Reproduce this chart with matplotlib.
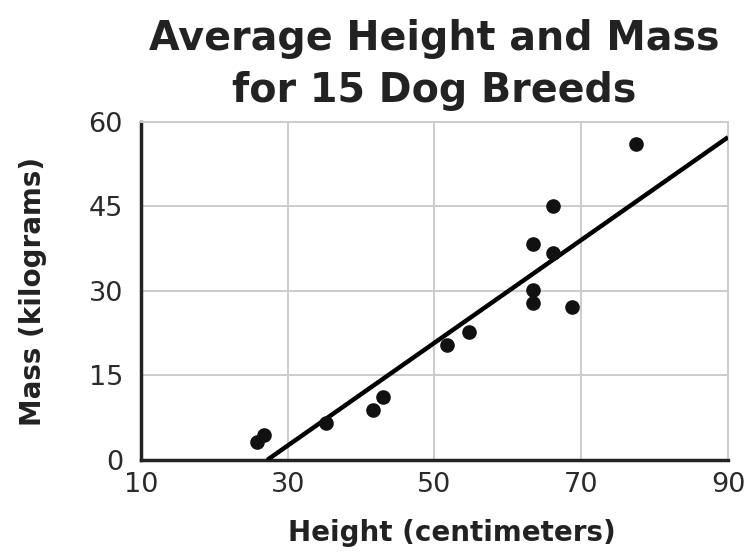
import numpy as np
import matplotlib.pyplot as plt

# average height (cm) and mass (kg)
height = [25.8, 26.7, 35.2, 41.6, 43.0, 51.7, 54.7, 63.4, 63.4, 68.7, 63.4, 66.2, 66.2, 77.5]
mass = [3.2, 4.4, 6.6, 8.9, 11.1, 20.4, 22.7, 30.1, 27.8, 27.1, 38.3, 36.8, 45.0, 56.1]

# line of best fit endpoints
fit_x = [27.2, 90.0]
fit_y = [0.0, 57.3]

xticks = [10, 30, 50, 70, 90]
yticks = [0, 15, 30, 45, 60]

fig = plt.figure(figsize=(7.51, 5.52), dpi=100)
ax = fig.add_axes([0.1877, 0.1667, 0.7817, 0.6123])

ax.plot(fit_x, fit_y, color='black', lw=3.2, solid_capstyle='butt', zorder=3)
ax.plot(height, mass, 'o', color='#111111', ms=9.5, zorder=4)

ax.set_xlim(10, 90)
ax.set_ylim(0, 60)
ax.set_xticks(xticks)
ax.set_yticks(yticks)
ax.set_xticklabels([str(t) for t in xticks], fontsize=19.5, color='#2a2a2a')
ax.set_yticklabels([str(t) for t in yticks], fontsize=19.5, color='#2a2a2a')
ax.grid(True, color='#cccccc', lw=1.4)
ax.set_axisbelow(True)
ax.tick_params(axis='x', length=0, pad=9)
ax.tick_params(axis='y', length=0, pad=13)

for s in ['top', 'right']:
    ax.spines[s].set_color('#cccccc')
    ax.spines[s].set_linewidth(1.4)
for s in ['left', 'bottom']:
    ax.spines[s].set_color('#222222')
    ax.spines[s].set_linewidth(2.5)

ax.set_xlabel('Height (centimeters)', fontsize=20, fontweight='bold', color='#222222')
ax.set_ylabel('Mass (kilograms)', fontsize=20, fontweight='bold', color='#222222')
ax.xaxis.set_label_coords(0.53, -0.175)
ax.yaxis.set_label_coords(-0.16, 0.5)

fig.text(0.578, 1 - 50 / 552, 'Average Height and Mass', ha='center', va='baseline',
         fontsize=28.5, fontweight='bold', color='#222222')
fig.text(0.578, 1 - 102 / 552, 'for 15 Dog Breeds', ha='center', va='baseline',
         fontsize=28.5, fontweight='bold', color='#222222')

fig.savefig('out.png', dpi=100)
